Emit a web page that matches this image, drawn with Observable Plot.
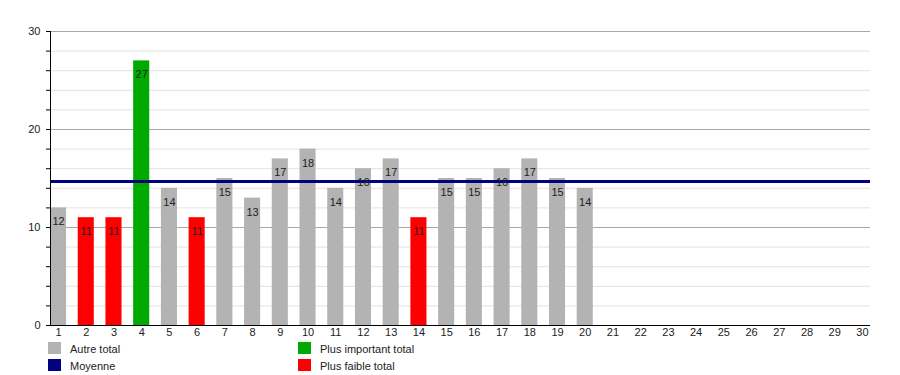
<!DOCTYPE html>
<html>
<head>
<meta charset="utf-8">
<script src="https://cdn.jsdelivr.net/npm/d3@7"></script>
<script src="https://cdn.jsdelivr.net/npm/@observablehq/plot@0.6"></script>
<style>
  html, body { margin: 0; padding: 0; background: #fff; }
  body { font-family: "Liberation Sans", Arial, sans-serif; width: 900px; height: 375px; position: relative; overflow: hidden; }
  #chart { position: absolute; left: 0; top: 0; }
  .lg { position: absolute; font-size: 11px; color: #222; line-height: 13px; }
  .sw { position: absolute; width: 13px; height: 12px; }
</style>
</head>
<body>
<div id="chart"></div>
<div class="sw" style="left:48px;top:342px;background:#b3b3b3"></div>
<div class="lg" style="left:70px;top:343px">Autre total</div>
<div class="sw" style="left:48px;top:359px;background:#000080"></div>
<div class="lg" style="left:70px;top:360px">Moyenne</div>
<div class="sw" style="left:298px;top:342px;background:#00aa00"></div>
<div class="lg" style="left:320px;top:343px">Plus important total</div>
<div class="sw" style="left:298px;top:359px;background:#ff0000"></div>
<div class="lg" style="left:320px;top:360px">Plus faible total</div>
<script>
const jours = ["1","2","3","4","5","6","7","8","9","10","11","12","13","14","15","16","17","18","19","20","21","22","23","24","25","26","27","28","29","30"];
const totaux = [12,11,11,27,14,11,15,13,17,18,14,16,17,11,15,15,16,17,15,14];
const moyenne = 14.7;
const yTicksMajor = [0,10,20,30];
const yTicksMinor = [0,2,4,6,8,10,12,14,16,18,20,22,24,26,28,30];

const maxV = d3.max(totaux), minV = d3.min(totaux);
const data = totaux.map((v, i) => ({
  jour: jours[i],
  total: v,
  cat: v === maxV ? "max" : v === minV ? "min" : "autre"
}));
const colors = {autre: "#b3b3b3", max: "#00aa00", min: "#ff0000"};

const chart = Plot.plot({
  width: 900,
  height: 340,
  marginLeft: 50,
  marginRight: 30,
  marginTop: 31,
  marginBottom: 15,
  style: {fontFamily: "Liberation Sans, Arial, sans-serif", fontSize: "11px", color: "#222", background: "#fff"},
  x: {type: "band", domain: jours, paddingInner: 0.42, paddingOuter: 0, round: false, label: null},
  y: {domain: [0, 30], label: null},
  marks: [
    Plot.ruleY(yTicksMinor.filter(d => d % 10 !== 0), {stroke: "#e2e2e2", strokeWidth: 1}),
    Plot.ruleY([10, 20, 30], {stroke: "#a8a8a8", strokeWidth: 1}),
    Plot.barY(data, {x: "jour", y: "total", fill: d => colors[d.cat]}),
    Plot.ruleY([moyenne], {stroke: "#000080", strokeWidth: 3}),
    Plot.text(data, {x: "jour", y: "total", text: d => String(d.total), dy: 14, fontSize: 11, fill: "#222"}),
    Plot.axisY({ticks: yTicksMinor, tickSize: 4, tickFormat: () => "", stroke: "#000"}),
    Plot.axisY({ticks: yTicksMajor, tickSize: 0, tickPadding: 10, fontSize: 11, fill: "#222"}),
    Plot.axisX({tickSize: 0, tickPadding: 3, fontSize: 11, fill: "#222"}),
    Plot.ruleY([0], {stroke: "#000", strokeWidth: 1})
  ]
});
document.getElementById("chart").appendChild(chart);
// y-axis line
d3.select(chart).append("line").attr("x1", 50.5).attr("x2", 50.5).attr("y1", 31).attr("y2", 325).attr("stroke", "#000");
</script>
</body>
</html>
